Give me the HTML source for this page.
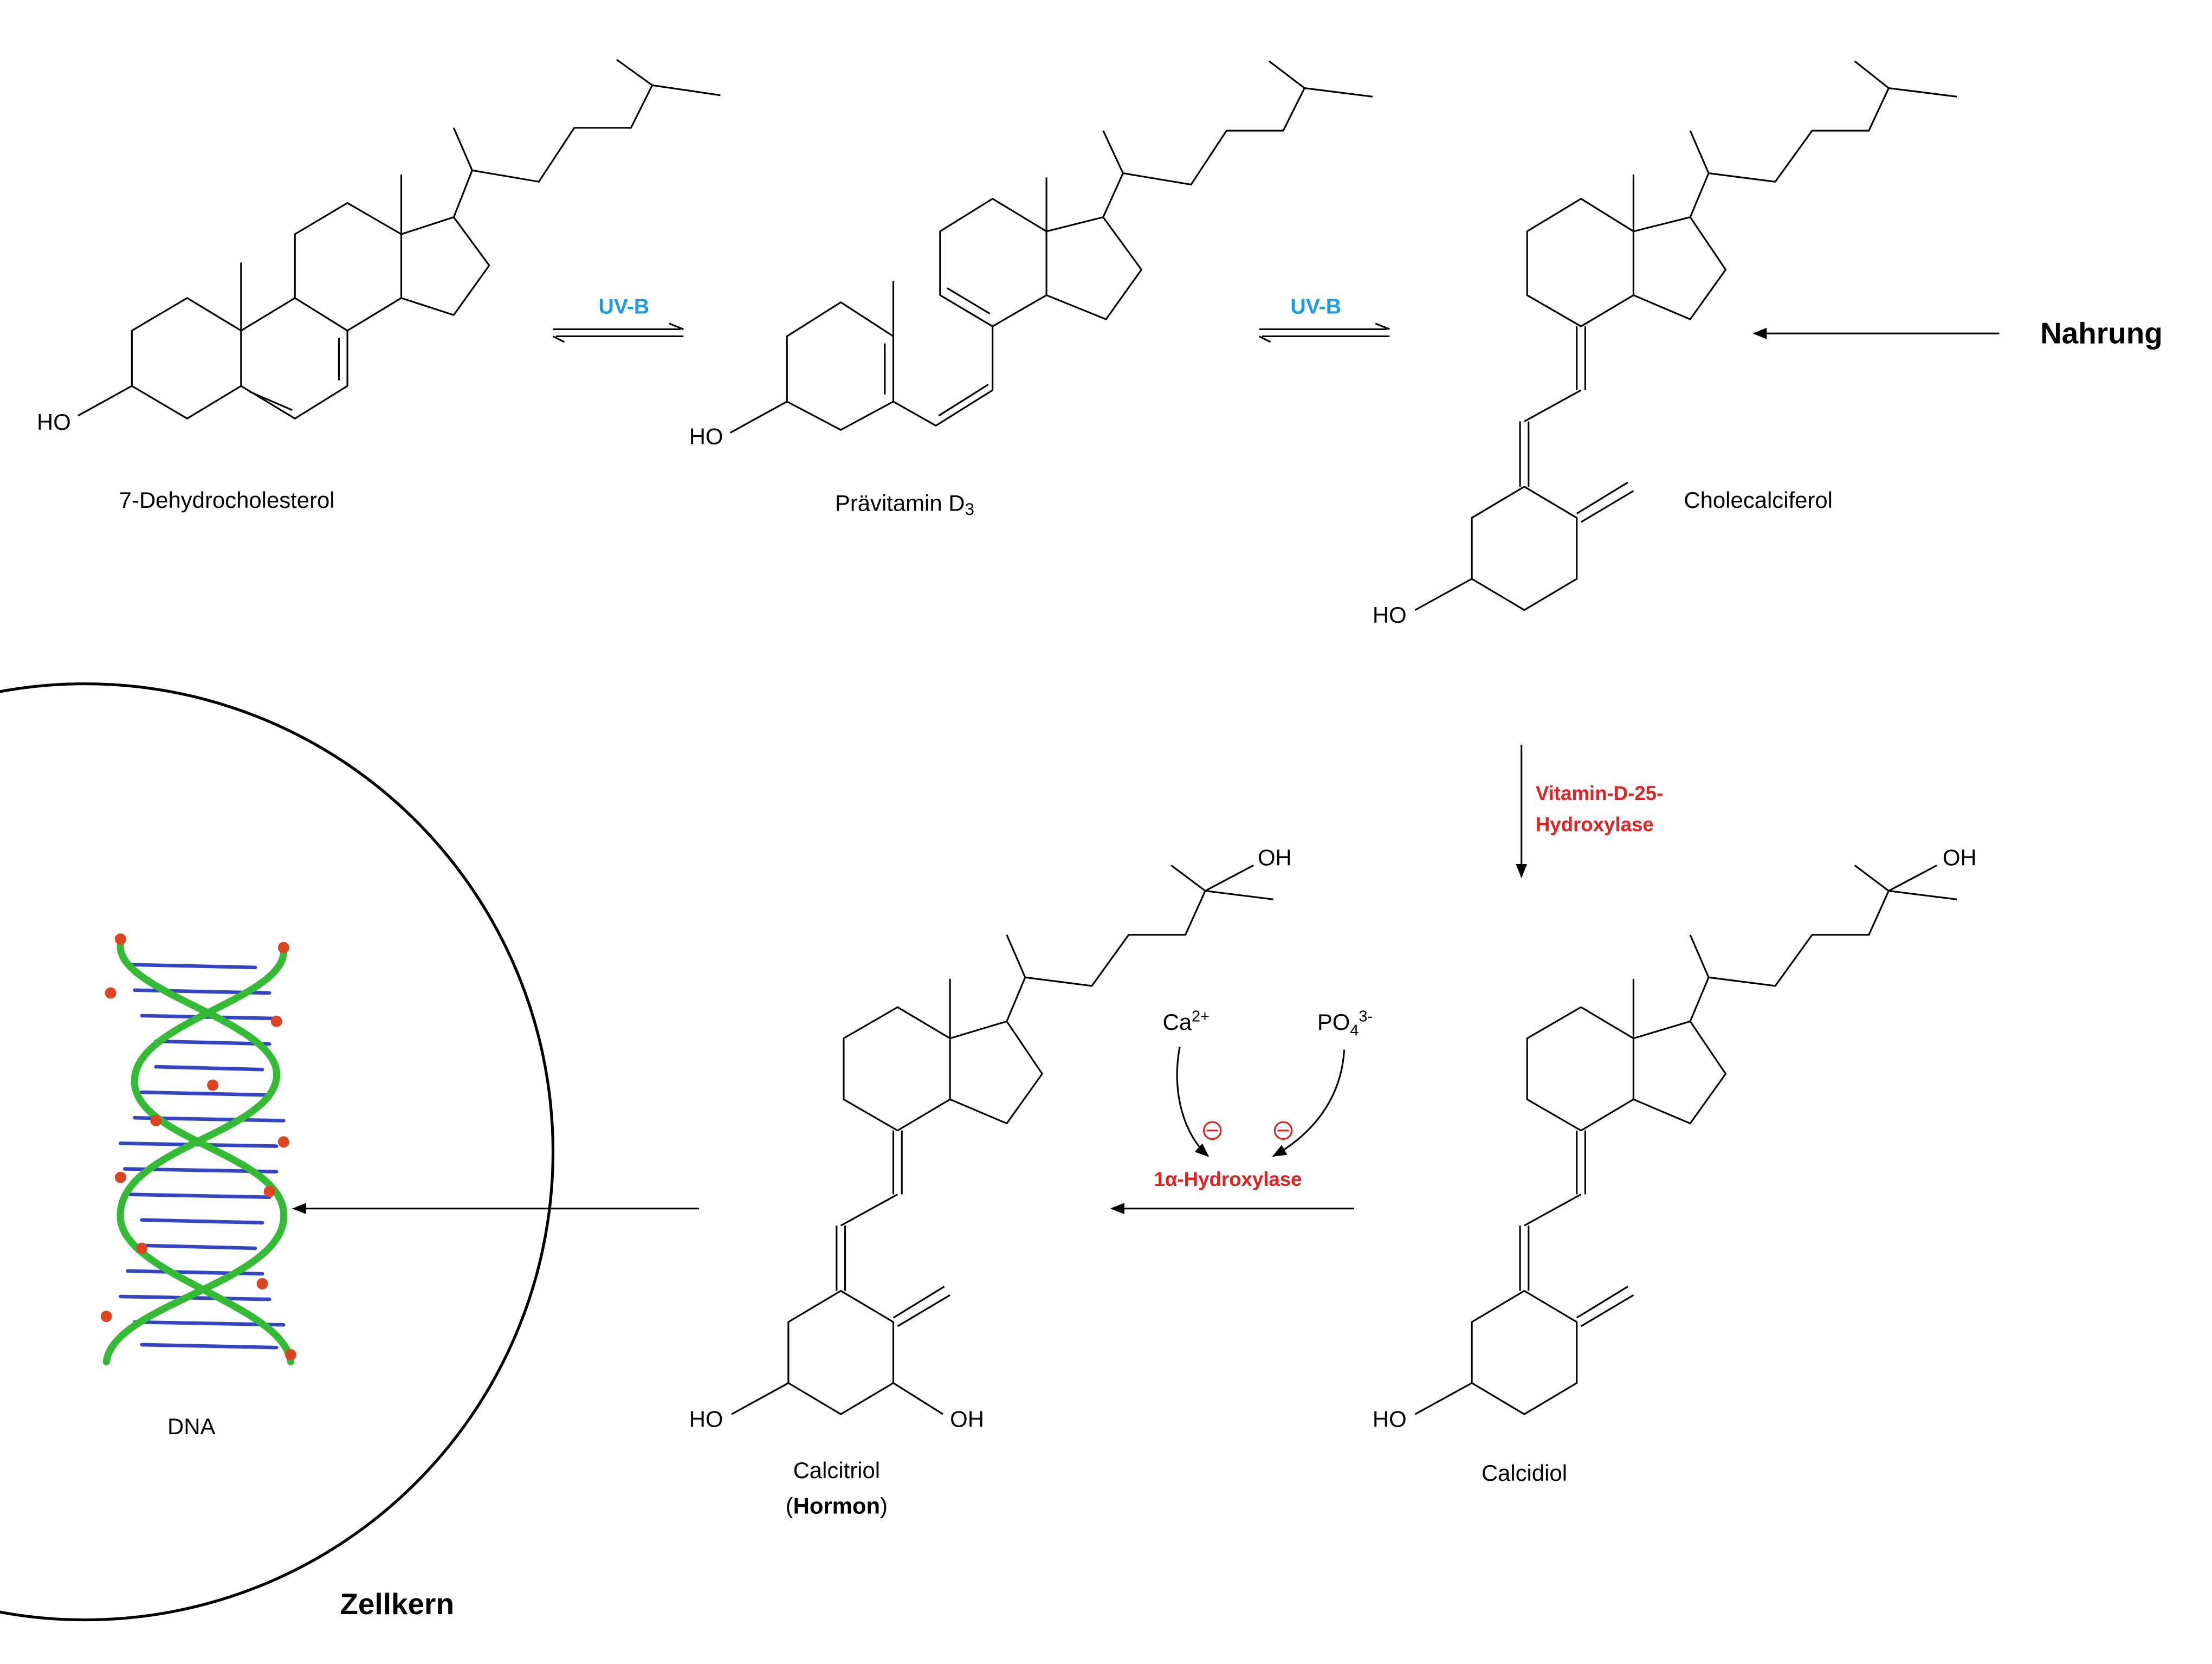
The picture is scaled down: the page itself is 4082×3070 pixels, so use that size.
<!DOCTYPE html>
<html><head><meta charset="utf-8"><style>
html,body{margin:0;padding:0;background:#fff;}
svg{display:block;}
text{font-family:"Liberation Sans",sans-serif;}
</style></head><body>
<svg width="4082" height="3070" viewBox="0 0 1560 1173" xmlns="http://www.w3.org/2000/svg">
<defs>
<marker id="ah" markerWidth="10" markerHeight="8" refX="9" refY="4" orient="auto" markerUnits="userSpaceOnUse">
<path d="M0,0 L10,4 L0,8 Z" fill="#000"/></marker>
</defs>
<rect width="1560" height="1173" fill="#fff"/>
<g fill="none" stroke="#000" stroke-width="1.2" stroke-linejoin="round">
<!-- 7-Dehydrocholesterol -->
<path d="M55,293 L93,272 L93,233 L132,210 L170,233 L170,272 L132,295 L93,272"/>
<path d="M170,233 L170,185"/>
<path d="M170,233 L208,210 L245,233 L245,272 L208,295 L170,272"/>
<path d="M176,276 L206,289 M239,238 L239,268"/>
<path d="M208,210 L208,165 L245,143 L283,165 L283,210 L245,233"/>
<path d="M283,165 L283,123"/>
<path d="M283,165 L320,153 L345,187 L320,222 L283,210"/>
<path d="M320,153 L333,120 L320,90 M333,120 L380,128 L405,90 L445,90 L460,60 L508,67 M460,60 L435,42"/>
<!-- Prävitamin D3 -->
<path d="M515,305 L555,283 L555,237 L593,213 L630,237 L630,283 L593,303 L555,283"/>
<path d="M630,237 L630,198 M624,242 L624,278"/>
<path d="M630,283 L660,300 L700,275 M662,293 L697,271"/>
<path d="M700,275 L700,230 L663,208 L663,163 L700,140 L738,163 L738,208 L700,230 M668,203 L698,221"/>
<path d="M738,163 L738,125 M738,163 L778,153 L805,190 L780,225 L738,208"/>
<path d="M778,153 L792,122 L778,92 M792,122 L840,130 L865,92 L905,92 L920,62 L968,68 M920,62 L895,43"/>
<!-- Cholecalciferol -->
<path d="M1115,230 L1077,208 L1077,163 L1115,140 L1152,163 L1152,208 L1115,230"/>
<path d="M1152,163 L1152,123 M1152,163 L1192,153 L1217,190 L1192,225 L1152,208"/>
<path d="M1192,153 L1205,122 L1192,92 M1205,122 L1252,128 L1278,92 L1318,92 L1332,62 L1380,68 M1332,62 L1308,43"/>
<path d="M1112,230 L1112,275 M1118,230 L1118,275 M1115,275 L1075,297 M1072,297 L1072,343 M1078,297 L1078,343"/>
<path d="M1075,343 L1112,365 L1112,408 L1075,430 L1038,408 L1038,365 Z"/>
<path d="M1112,362 L1148,340 M1115,368 L1152,346 M998,430 L1038,408"/>
<!-- Calcidiol -->
<path d="M1115,797 L1077,775 L1077,732 L1115,710 L1152,732 L1152,775 L1115,797"/>
<path d="M1152,732 L1152,690 M1152,732 L1192,720 L1217,757 L1192,792 L1152,775"/>
<path d="M1192,720 L1205,689 L1192,659 M1205,689 L1252,695 L1278,659 L1318,659 L1332,628 L1380,634 M1332,628 L1308,610 M1332,628 L1366,610"/>
<path d="M1112,797 L1112,842 M1118,797 L1118,842 M1115,842 L1075,864 M1072,864 L1072,910 M1078,864 L1078,910"/>
<path d="M1075,910 L1112,932 L1112,975 L1075,997 L1038,975 L1038,932 Z"/>
<path d="M1112,929 L1148,907 M1115,935 L1152,913 M998,997 L1038,975"/>
<!-- Calcitriol -->
<g transform="translate(-482,0)">
<path d="M1115,797 L1077,775 L1077,732 L1115,710 L1152,732 L1152,775 L1115,797"/>
<path d="M1152,732 L1152,690 M1152,732 L1192,720 L1217,757 L1192,792 L1152,775"/>
<path d="M1192,720 L1205,689 L1192,659 M1205,689 L1252,695 L1278,659 L1318,659 L1332,628 L1380,634 M1332,628 L1308,610 M1332,628 L1366,610"/>
<path d="M1112,797 L1112,842 M1118,797 L1118,842 M1115,842 L1075,864 M1072,864 L1072,910 M1078,864 L1078,910"/>
<path d="M1075,910 L1112,932 L1112,975 L1075,997 L1038,975 L1038,932 Z"/>
<path d="M1112,929 L1148,907 M1115,935 L1152,913 M998,997 L1038,975 M1112,975 L1147,997"/>
</g>
<!-- equilibrium arrows -->
<path d="M390,232 L480,232 M392,237 L482,237" />
<path d="M888,232 L978,232 M890,237 L980,237" />
<!-- curved -->
<path d="M832,738 C826,770 835,800 852,815" marker-end="url(#ah)"/>
<path d="M948,740 C946,775 925,800 898,815" marker-end="url(#ah)"/>
</g>
<g stroke="#000" stroke-width="1.2" fill="none">
<path d="M472,228 L482,232 M398,241 L390,237"/>
<path d="M970,228 L980,232 M896,241 L888,237"/>
<path d="M1410,235 L1237,235" marker-end="url(#ah)"/>
<path d="M1073,525 L1073,618" marker-end="url(#ah)"/>
<path d="M955,852 L784,852" marker-end="url(#ah)"/>
<path d="M493,852 L207,852" marker-end="url(#ah)"/>
</g>
<circle cx="60" cy="812" r="330" fill="none" stroke="#000" stroke-width="2"/>
<!-- DNA -->
<g fill="none" stroke-linecap="round">
<g stroke="#3344cc" stroke-width="2.5">
<path d="M92,680 L180,682 M95,698 L190,700 M100,716 L195,718 M110,734 L190,736 M110,752 L185,754 M100,770 L190,772 M95,788 L200,790 M85,806 L195,808 M88,824 L195,826 M90,842 L190,844 M100,860 L185,862 M100,878 L180,880 M90,896 L185,898 M85,914 L190,916 M95,932 L200,934 M100,948 L195,950"/>
</g>
<g stroke="#33bb33" stroke-width="5">
<path d="M85,665 C80,700 200,720 195,760 C190,800 80,810 85,860 C90,900 200,920 205,960"/>
<path d="M200,668 C205,705 90,720 95,765 C100,805 205,815 200,860 C195,905 80,920 75,960"/>
</g>
<g fill="#dd4422">
<circle cx="85" cy="662" r="4"/><circle cx="200" cy="668" r="4"/><circle cx="78" cy="700" r="4"/><circle cx="195" cy="720" r="4"/><circle cx="150" cy="765" r="4"/><circle cx="110" cy="790" r="4"/><circle cx="200" cy="805" r="4"/><circle cx="85" cy="830" r="4"/><circle cx="190" cy="840" r="4"/><circle cx="100" cy="880" r="4"/><circle cx="75" cy="928" r="4"/><circle cx="205" cy="955" r="4"/><circle cx="185" cy="905" r="4"/>
</g>
</g>
<!-- texts -->
<g font-size="16" fill="#000">
<text x="26" y="303">HO</text>
<text x="486" y="313">HO</text>
<text x="968" y="439">HO</text>
<text x="968" y="1006">HO</text>
<text x="486" y="1006">HO</text>
<text x="670" y="1006">OH</text>
<text x="1370" y="610">OH</text>
<text x="887" y="610">OH</text>
<text x="160" y="358" text-anchor="middle">7-Dehydrocholesterol</text>
<text x="638" y="360" text-anchor="middle">Prävitamin D<tspan font-size="12" dy="3">3</tspan></text>
<text x="1240" y="358" text-anchor="middle">Cholecalciferol</text>
<text x="1075" y="1044" text-anchor="middle">Calcidiol</text>
<text x="590" y="1042" text-anchor="middle">Calcitriol</text>
<text x="590" y="1067" text-anchor="middle">(<tspan font-weight="bold">Hormon</tspan>)</text>
<text x="135" y="1011" text-anchor="middle">DNA</text>
<text x="820" y="726">Ca<tspan font-size="11" dy="-6">2+</tspan></text>
<text x="929" y="726">PO<tspan font-size="11" dy="4">4</tspan><tspan font-size="11" dy="-10">3-</tspan></text>
</g>
<g font-weight="bold">
<text x="440" y="221" text-anchor="middle" font-size="15" fill="#1a9be6">UV-B</text>
<text x="928" y="221" text-anchor="middle" font-size="15" fill="#1a9be6">UV-B</text>
<text x="1482" y="242" text-anchor="middle" font-size="21" fill="#000">Nahrung</text>
<text x="1083" y="564" font-size="14" fill="#e52020">Vitamin-D-25-</text>
<text x="1083" y="586" font-size="14" fill="#e52020">Hydroxylase</text>
<text x="866" y="836" text-anchor="middle" font-size="14" fill="#e52020">1α-Hydroxylase</text>
<text x="280" y="1138" text-anchor="middle" font-size="21" fill="#000">Zellkern</text>
</g>
<g stroke="#e52020" stroke-width="1.2" fill="none">
<circle cx="855" cy="797" r="6"/><path d="M851,797 L859,797"/>
<circle cx="905" cy="797" r="6"/><path d="M901,797 L909,797"/>
</g>
</svg>
</body></html>
